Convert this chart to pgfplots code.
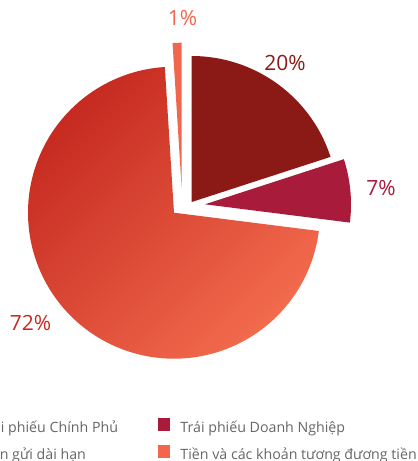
\documentclass[border=0pt]{standalone}
\usepackage{pgfplots}
\pgfplotsset{compat=1.18}
\usepackage{fontspec}
\setmainfont{Open Sans}
\definecolor{cA}{HTML}{8B1A17}
\definecolor{cB}{HTML}{A81B3A}
\definecolor{cC1}{HTML}{C62A20}
\definecolor{cC2}{HTML}{F26B4D}
\definecolor{cD}{HTML}{F0674E}
\definecolor{legtext}{HTML}{666666}
\newlength\wA
\begin{document}%
\settowidth{\wA}{\fontsize{14.2}{16}\selectfont Trái phiếu Chính Phủ}%
\pgfmathsetmacro{\legx}{95.5-\wA}%
% shares (percent) -> angles, clockwise from 90 degrees
\pgfmathsetmacro{\sA}{20}%
\pgfmathsetmacro{\sB}{7}%
\pgfmathsetmacro{\sC}{72}%
\pgfmathsetmacro{\sD}{1}%
\pgfmathsetmacro{\aA}{90}%
\pgfmathsetmacro{\aB}{\aA-3.6*\sA}%
\pgfmathsetmacro{\aC}{\aB-3.6*\sB}%
\pgfmathsetmacro{\aD}{\aC-3.6*\sC}%
\pgfmathsetmacro{\aE}{\aD-3.6*\sD}%
\def\R{146}%
\begin{tikzpicture}
\useasboundingbox (0,0) rectangle (418pt,461pt);
\clip (0,0) rectangle (418pt,461pt);
\begin{axis}[
  at={(0,0)}, anchor=south west,
  scale only axis, width=418pt, height=461pt,
  xmin=0, xmax=418, ymin=0, ymax=461, y dir=reverse,
  hide axis, clip=false,
  legend image code/.code={\path[#1] (0pt,-1.5pt) rectangle (12.5pt,11pt);},
  legend columns=2,
  legend cell align=left,
  legend style={draw=none, fill=none, inner sep=0pt, outer sep=0pt,
    at={(axis cs:\legx,418)}, anchor=north west,
    font=\fontsize{14.2}{16}\selectfont, text=legtext,
    nodes={inner sep=0pt, outer sep=0pt, text height=11pt, text depth=4pt},
    column sep=10pt, row sep=8.5pt,
    /tikz/every even column/.append style={column sep=40pt}},
]
\addplot[fill=cA, draw=none, domain=\aB:\aA, samples=120, variable=\t]
  ({191.7+\R*cos(\t)}, {202-\R*sin(\t)}) -- (axis cs:191.7,202) -- cycle;
\addlegendentry{Trái phiếu Chính Phủ}
\addplot[fill=cB, draw=none, domain=\aC:\aB, samples=60, variable=\t]
  ({205+\R*cos(\t)}, {204.3-\R*sin(\t)}) -- (axis cs:205,204.3) -- cycle;
\addlegendentry{Trái phiếu Doanh Nghiệp}
\addplot[shading=axis, top color=cC1, bottom color=cC2, shading angle=45, draw=none, domain=\aD:\aC, samples=300, variable=\t]
  ({174+\R*cos(\t)}, {212.7-\R*sin(\t)}) -- (axis cs:174,212.7) -- cycle;
\addlegendentry{Tiền gửi dài hạn}
\addplot[fill=cD, draw=none, domain=\aE:\aD, samples=20, variable=\t]
  ({181.7+\R*cos(\t)}, {188.7-\R*sin(\t)}) -- (axis cs:181.7,188.7) -- cycle;
\addlegendentry{Tiền và các khoản tương đương tiền}
\node[anchor=base, text=cA, font=\fontsize{21}{25}\selectfont] at (axis cs:285,70) {20\%};
\node[anchor=base, text=cB, font=\fontsize{21}{25}\selectfont] at (axis cs:381,195) {7\%};
\node[anchor=base, text=cC1, font=\fontsize{21}{25}\selectfont] at (axis cs:30.5,330) {72\%};
\node[anchor=base, text=cD, font=\fontsize{21}{25}\selectfont] at (axis cs:182.5,25) {1\%};
\end{axis}
\end{tikzpicture}%
\end{document}
